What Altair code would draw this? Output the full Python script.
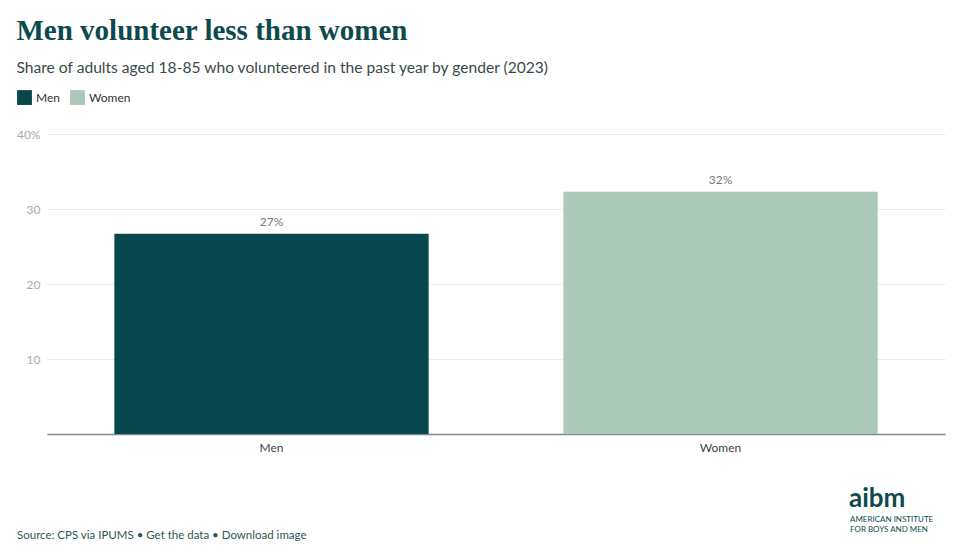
import altair as alt
import pandas as pd

genders = ["Men", "Women"]
shares = [26.7, 32.3]
labels = ["27%", "32%"]
colors = ["#08474c", "#acc8b8"]

df = pd.DataFrame({"gender": genders, "share": shares, "label": labels})

x = alt.X("gender:N", sort=genders, title=None,
          scale=alt.Scale(paddingInner=0.3, paddingOuter=0.15),
          axis=alt.Axis(labelAngle=0, labelColor="#444", labelFontSize=12, labelFont="Lato",
                        ticks=False, domainColor="#888", domainWidth=1.5, labelPadding=8))
y = alt.Y("share:Q", title=None, scale=alt.Scale(domain=[0, 40]),
          axis=alt.Axis(values=[0, 10, 20, 30, 40], domain=False, ticks=False,
                        labelColor="#aaa", labelFontSize=12, labelFont="Lato", labelPadding=7,
                        gridColor="#ececec",
                        labelExpr="datum.value == 0 ? '' : (datum.value == 40 ? '40%' : datum.label)"))

bars = alt.Chart(df).mark_bar().encode(
    x=x, y=y,
    color=alt.Color("gender:N", sort=genders,
                    scale=alt.Scale(domain=genders, range=colors),
                    legend=alt.Legend(title=None, orient="none", legendX=-30, legendY=-44,
                                      direction="horizontal", symbolType="square",
                                      symbolSize=220, symbolStrokeWidth=0, labelFontSize=12,
                                      labelFont="Lato", labelColor="#333", columnPadding=10,
                                      symbolOpacity=1)),
)
texts = alt.Chart(df).mark_text(dy=-12, fontSize=12, font="Lato", color="#777").encode(
    x=alt.X("gender:N", sort=genders), y="share:Q", text="label:N")

ann = pd.DataFrame({"t": ["Source: CPS via IPUMS \u2022 Get the data \u2022 Download image"]})
footer = alt.Chart(ann).mark_text(align="left", baseline="middle", fontSize=11.5, font="Lato",
                                  color="#2f5558").encode(
    x=alt.value(-30), y=alt.value(402), text="t:N")

logo1 = alt.Chart(pd.DataFrame({"t": ["aibm"]})).mark_text(
    align="left", baseline="alphabetic", fontSize=26, font="Lato", fontWeight="bold",
    color="#0d4a4d").encode(x=alt.value(802), y=alt.value(373), text="t:N")
logo2 = alt.Chart(pd.DataFrame({"t": ["AMERICAN INSTITUTE"]})).mark_text(
    align="left", baseline="middle", fontSize=8, font="Lato", color="#0d4a4d").encode(
    x=alt.value(803), y=alt.value(386), text="t:N")
logo3 = alt.Chart(pd.DataFrame({"t": ["FOR BOYS AND MEN"]})).mark_text(
    align="left", baseline="middle", fontSize=8, font="Lato", color="#0d4a4d").encode(
    x=alt.value(803), y=alt.value(396), text="t:N")

chart = alt.layer(bars, texts, footer, logo1, logo2, logo3).properties(
    width=898, height=300,
    autosize=alt.AutoSizeParams(type="none"),
    padding={"left": 39, "top": 126, "right": 6, "bottom": 110},
    title=alt.TitleParams(
        "Men volunteer less than women",
        subtitle="Share of adults aged 18-85 who volunteered in the past year by gender (2023)",
        anchor="start", frame="bounds", font="Liberation Serif", fontSize=29, fontWeight="bold",
        color="#0d4a4d", subtitleFont="Lato", subtitleFontSize=15.6, subtitleColor="#3a4a4a",
        subtitlePadding=15, offset=13, dx=0),
).configure(background="white").configure_view(strokeWidth=0)

chart.save("out.html", embed_options={"renderer": "svg", "actions": False})
